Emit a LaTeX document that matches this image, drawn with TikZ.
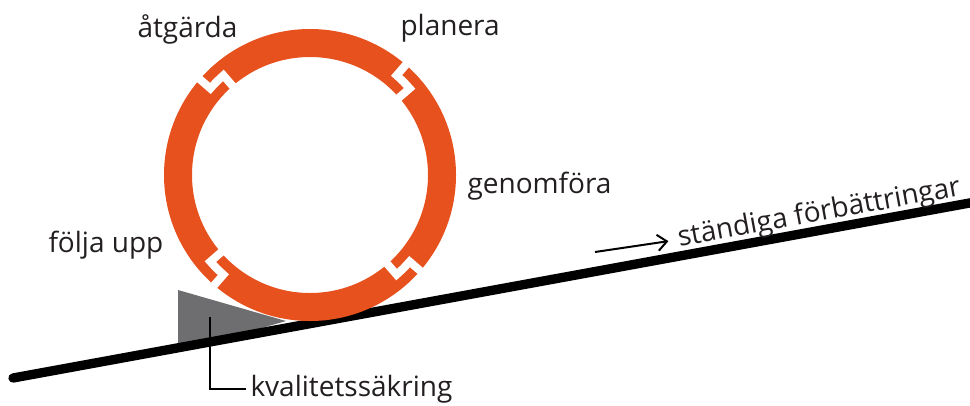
\documentclass[tikz,border=0pt]{standalone}
\usepackage{fontspec}
\setmainfont{Open Sans}
\usetikzlibrary{arrows.meta}

\definecolor{ringorange}{RGB}{230,81,30}
\definecolor{wedgegray}{RGB}{110,110,112}
\definecolor{textgray}{RGB}{35,31,32}

\tikzset{every picture/.style={line width=0.75pt}}
\tikzset{
  label/.style={anchor=base west,inner sep=0pt,text=textgray,font=\fontsize{21}{25}\selectfont},
  gapcut/.style={draw=white,line width=6,line join=miter},
}

\begin{document}
\begin{tikzpicture}[x=0.75pt,y=0.75pt,yscale=-1,xscale=1]
\useasboundingbox (0,0) rectangle (970,405);

%Shape: Wedge
\fill [wedgegray] (178,290) -- (286,321) -- (178,352) -- cycle ;
\coordinate (wedgepin) at (210,317) ;

%Straight Lines: slope
\coordinate (slopeA) at (13,378) ;
\coordinate (slopeB) at (975,202) ;
\draw [line width=7,line cap=round] (slopeA) -- (slopeB) ;

%Shape: Ring
\coordinate (ring) at (310,175) ;
\draw [ringorange,line width=21] (ring) circle [radius=132] ;
%Gaps in the ring
\begin{scope}[shift={(ring)}]
\draw [gapcut] (-139:147) -- (-139:132) arc [start angle=-139,end angle=-131,radius=132] -- (-131:117) ;
\draw [gapcut] (-49:147) -- (-49:132) arc [start angle=-49,end angle=-41,radius=132] -- (-41:117) ;
\draw [gapcut] (41:147) -- (41:132) arc [start angle=41,end angle=49,radius=132] -- (49:117) ;
\draw [gapcut] (131:147) -- (131:132) arc [start angle=131,end angle=139,radius=132] -- (139:117) ;
\end{scope}

% Text Node
\node [label] (atg) at (137,37) {åtgärda};
% Text Node
\node [label] (plan) at (400,35) {planera};
% Text Node
\node [label] (genom) at (467,193) {genomföra};
% Text Node
\node [label] (folja) at (48,252) {följa upp};
% Text Node
\node [label] (kval) at (250,396) {kvalitetssäkring};
% Text Node
\node [label,rotate=10.4] (forb) at (679,247) {ständiga förbättringar};

%Callout line
\draw [line width=1.5] (wedgepin) |- ([xshift=-3]kval.west) ;
%Arrow
\coordinate (arrtail) at (595,252) ;
\draw [line width=1.5,-{Straight Barb[length=7,width=12]},shorten >=7] (arrtail) -- (forb.west) ;

\end{tikzpicture}
\end{document}
